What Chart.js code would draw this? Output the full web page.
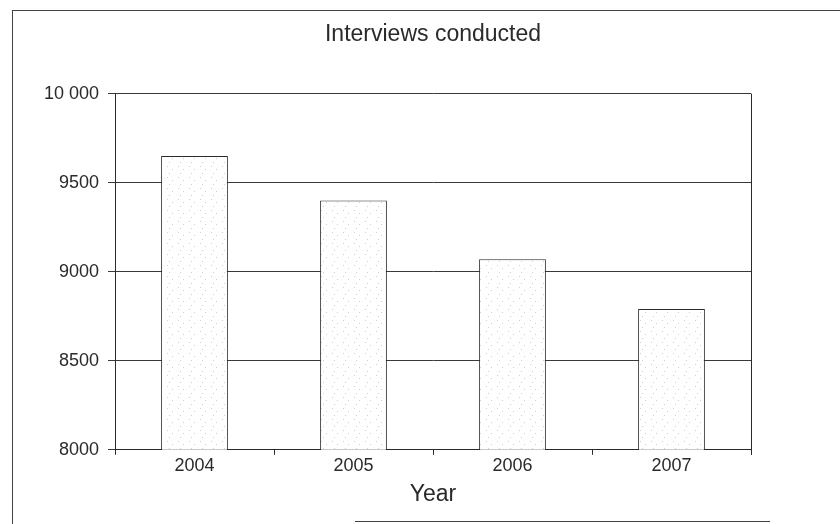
<!DOCTYPE html>
<html>
<head>
<meta charset="utf-8">
<script src="https://cdn.jsdelivr.net/npm/chart.js@4"></script>
<style>
    body { margin: 0; background: #fff; }
    canvas { display: block; }
</style>
</head>
<body>
<canvas id="interviewsChart" width="840" height="524"></canvas>
<script>
const years = ['2004', '2005', '2006', '2007'];
const interviews = [9650, 9400, 9070, 8790];
const yTicks = [8000, 8500, 9000, 9500, 10000];

const INK = '#2a2a2a';
Chart.defaults.font.family = '"Liberation Sans", Arial, sans-serif';
Chart.defaults.color = INK;

// sparse speckled fill like the printed bars
function speckle() {
    const c = document.createElement('canvas');
    c.width = 11; c.height = 11;
    const g = c.getContext('2d');
    g.fillStyle = '#fff';
    g.fillRect(0, 0, 11, 11);
    g.fillStyle = '#cfcfcf';
    g.fillRect(2, 1, 1, 1);
    g.fillRect(7, 4, 1, 1);
    g.fillRect(4, 8, 1, 1);
    return g.createPattern(c, 'repeat');
}

// outer frame of the figure and the right edge of the plot box
const framePlugin = {
    id: 'frame',
    beforeDraw(chart) {
        const ctx = chart.ctx;
        ctx.save();
        ctx.fillStyle = '#fff';
        ctx.fillRect(0, 0, chart.width, chart.height);
        ctx.strokeStyle = '#444';
        ctx.lineWidth = 1;
        ctx.beginPath();
        ctx.moveTo(12.5, 10); ctx.lineTo(12.5, chart.height);
        ctx.moveTo(12, 10.5); ctx.lineTo(chart.width, 10.5);
        ctx.moveTo(355, 521.5); ctx.lineTo(770, 521.5);
        ctx.stroke();
        ctx.restore();
    },
    afterDraw(chart) {
        const a = chart.chartArea, ctx = chart.ctx;
        ctx.save();
        ctx.strokeStyle = INK;
        ctx.lineWidth = 1;
        ctx.beginPath();
        ctx.moveTo(Math.round(a.right) + 0.5, a.top);
        ctx.lineTo(Math.round(a.right) + 0.5, a.bottom + 5);
        ctx.stroke();
        ctx.restore();
    }
};

new Chart(document.getElementById('interviewsChart'), {
    type: 'bar',
    data: {
        labels: years,
        datasets: [{
            data: interviews,
            backgroundColor: speckle(),
            borderColor: INK,
            borderWidth: 1,
            barPercentage: 0.42,
            categoryPercentage: 1
        }]
    },
    options: {
        responsive: false,
        animation: false,
        layout: { padding: { left: 0, right: 89, top: 0, bottom: 16 } },
        plugins: {
            legend: { display: false },
            tooltip: { enabled: false },
            title: {
                display: true,
                text: 'Interviews conducted',
                fullSize: false,
                color: INK,
                font: { size: 23, weight: 'normal' },
                padding: { top: 21, bottom: 45 }
            }
        },
        scales: {
            x: {
                grid: { drawOnChartArea: false, drawTicks: true, tickLength: 5, color: INK },
                border: { color: INK },
                ticks: { padding: 0, font: { size: 18 }, color: INK },
                title: { display: true, text: 'Year', color: INK, font: { size: 23 }, padding: { top: 4, bottom: 0 } }
            },
            y: {
                min: 8000,
                max: 10000,
                afterBuildTicks: axis => { axis.ticks = yTicks.map(v => ({ value: v })); },
                afterFit: axis => { axis.width = 115; },
                grid: { color: '#3a3a3a', tickLength: 7 },
                border: { color: INK },
                ticks: {
                    padding: 9,
                    font: { size: 18 },
                    color: INK,
                    callback: v => v >= 10000 ? String(v).replace(/\B(?=(\d{3})+(?!\d))/g, ' ') : String(v)
                }
            }
        }
    },
    plugins: [framePlugin]
});
</script>
</body>
</html>
